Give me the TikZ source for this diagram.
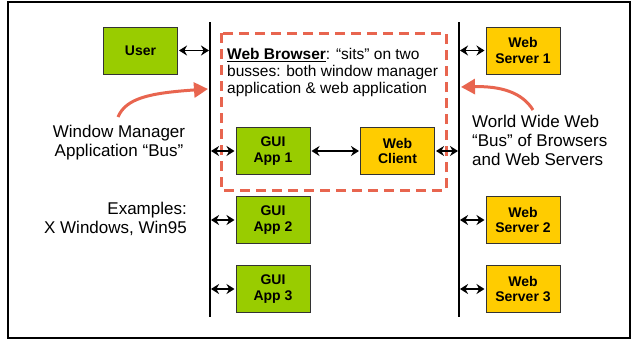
\documentclass[tikz,border=0pt]{standalone}
\usepackage{fontspec}
\setmainfont{Liberation Sans}
\usepackage{xcolor}
\usetikzlibrary{arrows.meta, positioning, calc}

\definecolor{appgreen}{HTML}{99CC00}
\definecolor{webyellow}{HTML}{FFCC00}
\definecolor{callred}{HTML}{E8654F}

\tikzset{
  box/.style={draw=black!80, line width=1pt, minimum width=74pt, minimum height=47pt,
    align=center, inner sep=0pt, font=\fontsize{14}{15.5}\selectfont\bfseries},
  guibox/.style={box, fill=appgreen},
  webbox/.style={box, fill=webyellow},
  busline/.style={line width=2pt},
  link/.style={{Stealth[length=8pt,width=10pt]}-{Stealth[length=8pt,width=10pt]}, line width=1.7pt},
  note/.style={inner sep=0pt, font=\fontsize{17}{19}\selectfont},
  callout/.style={-{Triangle[length=14pt,width=15pt]}, line width=3pt, callred},
}

\begin{document}
\begin{tikzpicture}[x=1pt, y=-1pt]
    \useasboundingbox (0,0) rectangle (632,340);
    \draw[line width=1.2pt] (8,2) rectangle (630,338);
    % the two busses
    \coordinate (lbtop) at (210,22);
    \coordinate (lbbot) at (210,317);
    \coordinate (rbtop) at (459,22);
    \coordinate (rbbot) at (459,317);
    \draw[busline] (lbtop) -- (lbbot);
    \draw[busline] (rbtop) -- (rbbot);
    % browser frame
    \draw[callred, line width=3pt, dash pattern=on 10pt off 6pt] (221,33) rectangle (446,190);
    % window manager side
    \node[guibox] (user) at (140.5,50.5) {User};
    \node[guibox] (gui1) at (273,151) {GUI\\App 1};
    \node[guibox, below=21pt of gui1] (gui2) {GUI\\App 2};
    \node[guibox, below=21pt of gui2] (gui3) {GUI\\App 3};
    % web side
    \node[webbox] (client) at (397.5,151) {Web\\Client};
    \node[webbox] (srv1) at (523,50.5) {Web\\Server 1};
    \node[webbox] (srv2) at (srv1 |- gui2) {Web\\Server 2};
    \node[webbox] (srv3) at (srv1 |- gui3) {Web\\Server 3};
    % links to the busses
    \draw[link, shorten <=1pt, shorten >=1pt] (user.east) -- (user.east -| lbtop);
    \draw[link, shorten <=1pt, shorten >=1pt] (gui1.west) -- (gui1.west -| lbtop);
    \draw[link, shorten <=1pt, shorten >=1pt] (gui2.west) -- (gui2.west -| lbtop);
    \draw[link, shorten <=1pt, shorten >=1pt] (gui3.west) -- (gui3.west -| lbtop);
    \draw[link, shorten <=1pt, shorten >=1pt] (gui1) -- (client);
    \draw[link, shorten <=1pt, shorten >=1pt] (client.east) -- (client.east -| rbtop);
    \draw[link, shorten <=1pt, shorten >=1pt] (srv1.west) -- (srv1.west -| rbtop);
    \draw[link, shorten <=1pt, shorten >=1pt] (srv2.west) -- (srv2.west -| rbtop);
    \draw[link, shorten <=1pt, shorten >=1pt] (srv3.west) -- (srv3.west -| rbtop);
    % notes
    \node[inner sep=0pt, anchor=north west, align=left, font=\fontsize{15.5}{17}\selectfont]
        (browser) at (227,48) {\underline{\textbf{Web Browser}}: “sits” on two\\busses: both window manager\\application \& web application};
    \node[note, align=center] (wmnote) at (119,143) {Window Manager\\Application “Bus”};
    \node[note, align=right, anchor=east] (examples) at (187,219) {Examples:\\X Windows, Win95};
    \node[note, align=left, anchor=west] (wwwnote) at (472,140) {World Wide Web\\“Bus” of Browsers\\and Web Servers};
    % callout arrows
    \coordinate (wmtail) at (118,117);
    \coordinate (wmhead) at (208,89);
    \coordinate (wwwtail) at (533,110);
    \coordinate (wwwhead) at (461,87);
    \draw[callout] (wmtail) .. controls (126,98) and (150,93) .. (wmhead);
    \draw[callout] (wwwtail) .. controls (522,92) and (500,86) .. (wwwhead);
\end{tikzpicture}
\end{document}
